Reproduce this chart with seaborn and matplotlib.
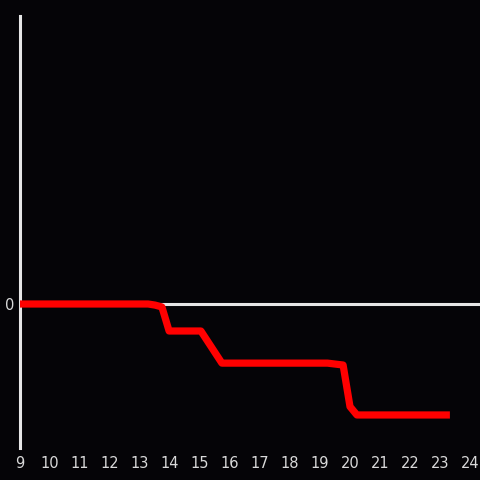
import pandas as pd
import seaborn as sns
import matplotlib.pyplot as plt

# hour of day and cumulative value (arbitrary units)
hours = [9.0, 13.27, 13.5, 13.73, 13.97, 15.03, 15.73, 19.25, 19.77, 20.0, 20.23, 23.33]
values = [0.0, 0.0, -0.04, -0.11, -1.0, -1.0, -2.19, -2.19, -2.26, -3.8, -4.11, -4.11]
xticks = list(range(9, 25))

df = pd.DataFrame({'Hour': hours, 'Value': values})

sns.set_style('dark', {'axes.facecolor': '#050407', 'figure.facecolor': '#050407'})
plt.rcParams['font.family'] = ['DejaVu Sans']

fig = plt.figure(figsize=(4.8, 4.8), dpi=100)
ax = fig.add_axes([20 / 480, 32 / 480, 460 / 480, 432 / 480])
ax.set_facecolor('#050407')

# zero line
ax.axhline(0, color='#e6e6e6', lw=2.2, zorder=1)
sns.lineplot(data=df, x='Hour', y='Value', color='#ff0000', lw=5.2, ax=ax, zorder=3,
             solid_capstyle='butt')

ax.set_xlim(9, 9 + 460 / 30)
ax.set_ylim(-144 / 27, 288 / 27)
ax.set_xticks(xticks)
ax.set_xticklabels([str(t) for t in xticks])
ax.set_yticks([0])
ax.set_yticklabels(['0'])
ax.tick_params(length=0, colors='#d9d9d9', labelsize=10.5)
ax.tick_params(axis='x', pad=6)
ax.tick_params(axis='y', pad=4)
ax.set_xlabel('')
ax.set_ylabel('')
ax.grid(False)

for s in ['top', 'right', 'bottom']:
    ax.spines[s].set_visible(False)
ax.spines['left'].set_visible(True)
ax.spines['left'].set_color('#e6e6e6')
ax.spines['left'].set_linewidth(2.2)

fig.savefig('out.png', dpi=100, facecolor='#050407')
